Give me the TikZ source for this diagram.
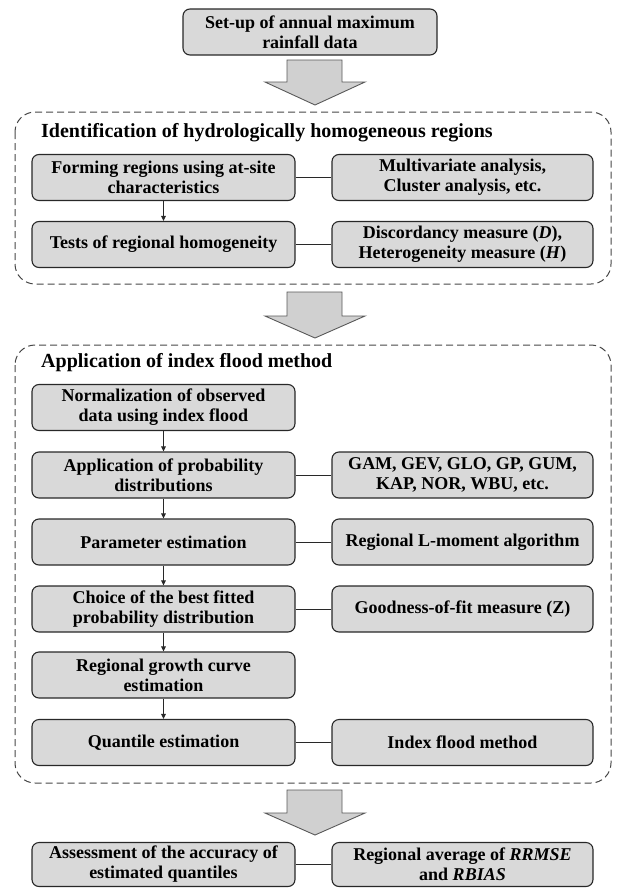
\documentclass[tikz,border=0pt]{standalone}
\usepackage{fontspec}
\setmainfont{Liberation Serif}
\usetikzlibrary{arrows.meta}
\definecolor{boxfill}{RGB}{217,217,217}
\definecolor{arrowfill}{RGB}{208,208,208}
\definecolor{boxline}{RGB}{40,40,40}
\definecolor{dashline}{RGB}{70,70,70}
\tikzset{
  procbox/.style={draw=boxline, fill=boxfill, line width=1.1pt, rounded corners=7pt,
    minimum height=46pt, inner sep=2pt, align=center,
    font=\fontsize{18}{20}\selectfont\bfseries},
  leftbox/.style={procbox, minimum width=263pt},
  rightbox/.style={procbox, minimum width=261pt},
  container/.style={draw=dashline, line width=1pt, dash pattern=on 7pt off 4pt, rounded corners=20pt},
  grouptitle/.style={anchor=west, inner sep=0pt, font=\fontsize{20}{22}\selectfont\bfseries},
  blockarrow/.style={draw=black!65, fill=arrowfill, line width=0.9pt},
  flow/.style={draw=boxline, line width=1pt, -{Triangle[length=5pt,width=4.5pt]}},
  link/.style={draw=boxline, line width=1pt}
}
\begin{document}
\begin{tikzpicture}[x=1pt,y=-1pt]
\useasboundingbox (0,0) rectangle (616,889);
% top
\node[procbox, minimum width=254pt] (setup) at (310,32) {Set-up of annual maximum\\rainfall data};
% containers
\draw[container] (15,112) rectangle (611,284);
\draw[container] (15,345) rectangle (611,783);
\node[grouptitle] (t1) at (41,133) {Identification of hydrologically homogeneous regions};
\node[grouptitle] (t2) at (41,363) {Application of index flood method};
% block arrows
\foreach \ya/\yb/\yc in {60/82/105, 292/316/338, 790/813/835}{
  \draw[blockarrow] (287,\ya) -- (342,\ya) -- (342,\yb) -- (365,\yb) -- (315,\yc) -- (265,\yb) -- (287,\yb) -- cycle;
}
% group 1
\node[leftbox] (form) at (163.5,177.5) {Forming regions using at-site\\characteristics};
\node[rightbox] (multi) at (462.5,177.5) {Multivariate analysis,\\Cluster analysis, etc.};
\node[leftbox] (tests) at (163.5,244.5) {Tests of regional homogeneity};
\node[rightbox] (disc) at (462.5,244.5) {Discordancy measure (\textit{D}),\\Heterogeneity measure (\textit{H})};
% group 2
\node[leftbox] (norm) at (163.5,407.5) {Normalization of observed\\data using index flood};
\node[leftbox] (appl) at (163.5,475) {Application of probability\\distributions};
\node[rightbox] (dists) at (462.5,475) {GAM, GEV, GLO, GP, GUM,\\KAP, NOR, WBU, etc.};
\node[leftbox] (param) at (163.5,542) {Parameter estimation};
\node[rightbox] (lmom) at (462.5,542) {Regional L-moment algorithm};
\node[leftbox] (choice) at (163.5,609) {Choice of the best fitted\\probability distribution};
\node[rightbox] (gof) at (462.5,609) {Goodness-of-fit measure (Z)};
\node[leftbox] (growth) at (163.5,675) {Regional growth curve\\estimation};
\node[leftbox] (quant) at (163.5,742.5) {Quantile estimation};
\node[rightbox] (ifm) at (462.5,742.5) {Index flood method};
% bottom
\node[leftbox, minimum height=44pt] (assess) at (163.5,864.5) {Assessment of the accuracy of\\estimated quantiles};
\node[rightbox, minimum height=44pt] (ravg) at (462.5,864.5) {Regional average of \textit{RRMSE}\\and \textit{RBIAS}};
% connectors
\draw[flow] (form) -- (tests);
\draw[flow] (norm) -- (appl);
\draw[flow] (appl) -- (param);
\draw[flow] (param) -- (choice);
\draw[flow] (choice) -- (growth);
\draw[flow] (growth) -- (quant);
\draw[link] (form) -- (multi);
\draw[link] (tests) -- (disc);
\draw[link] (appl) -- (dists);
\draw[link] (param) -- (lmom);
\draw[link] (choice) -- (gof);
\draw[link] (quant) -- (ifm);
\draw[link] (assess) -- (ravg);
\end{tikzpicture}
\end{document}
